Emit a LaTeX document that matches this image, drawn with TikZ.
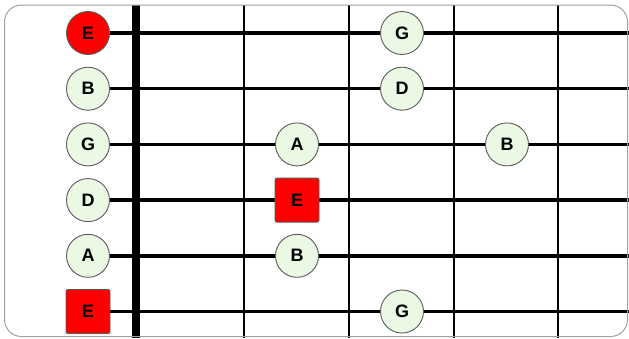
\documentclass[tikz,border=0pt]{standalone}
\usepackage{fontspec}
\setmainfont{Liberation Sans}
\pgfdeclarelayer{background}
\pgfsetlayers{background,main}
\definecolor{notegreen}{HTML}{EAF8E4}
\definecolor{notered}{HTML}{FF0000}
\definecolor{rimgray}{HTML}{5A5A5A}
\definecolor{framegray}{HTML}{A0A0A0}
\tikzset{
  note/.style={circle, draw=rimgray, line width=0.9pt, fill=notegreen, minimum size=43pt, inner sep=0pt, font=\fontsize{18}{20}\selectfont\bfseries},
  rootnote/.style={note, fill=notered},
  rootsquare/.style={rectangle, rounded corners=2pt, draw=rimgray, line width=0.9pt, fill=notered, minimum size=44pt, inner sep=0pt, font=\fontsize{18}{20}\selectfont\bfseries},
  gstring/.style={line width=3.5pt, black},
  fret/.style={line width=2pt, black},
  nut/.style={line width=8pt, black},
  frame/.style={draw=framegray, line width=1pt, rounded corners=17pt}
}
\begin{document}
\begin{tikzpicture}[x=1pt,y=-1pt]
\useasboundingbox (0,0) rectangle (629,338);
\draw[frame] (4.5,5) rectangle (627.5,336.5);
% open-string notes
\node[rootnote] (o1) at (88,33) {E};
\node[note] (o2) at (88,88.7) {B};
\node[note] (o3) at (88,144.4) {G};
\node[note] (o4) at (88,200.1) {D};
\node[note] (o5) at (88,255.8) {A};
\node[rootsquare] (o6) at (88,311.5) {E};
% fretted notes
\node[note] (g1) at (402,33) {G};
\node[note] (d2) at (402,88.7) {D};
\node[note] (a3) at (297,144.4) {A};
\node[note] (b3) at (507,144.4) {B};
\node[rootsquare] (e4) at (297,200.1) {E};
\node[note] (b5) at (297,255.8) {B};
\node[note] (g6) at (402,311.5) {G};
% string ends
\coordinate (r1) at (629,33);
\coordinate (r2) at (629,88.7);
\coordinate (r3) at (629,144.4);
\coordinate (r4) at (629,200.1);
\coordinate (r5) at (629,255.8);
\coordinate (r6) at (629,311.5);
% fret ends
\coordinate (nt) at (136,5);
\coordinate (nb) at (136,338);
\coordinate (f1t) at (244,5);
\coordinate (f1b) at (244,338);
\coordinate (f2t) at (348.5,5);
\coordinate (f2b) at (348.5,338);
\coordinate (f3t) at (454,5);
\coordinate (f3b) at (454,338);
\coordinate (f4t) at (558,5);
\coordinate (f4b) at (558,338);
\begin{pgfonlayer}{background}
\draw[fret] (f1t) -- (f1b);
\draw[fret] (f2t) -- (f2b);
\draw[fret] (f3t) -- (f3b);
\draw[fret] (f4t) -- (f4b);
\draw[nut] (nt) -- (nb);
\draw[gstring] (o1.east) -- (r1);
\draw[gstring] (o2.east) -- (r2);
\draw[gstring] (o3.east) -- (r3);
\draw[gstring] (o4.east) -- (r4);
\draw[gstring] (o5.east) -- (r5);
\draw[gstring] (o6.east) -- (r6);
\end{pgfonlayer}
\end{tikzpicture}
\end{document}
